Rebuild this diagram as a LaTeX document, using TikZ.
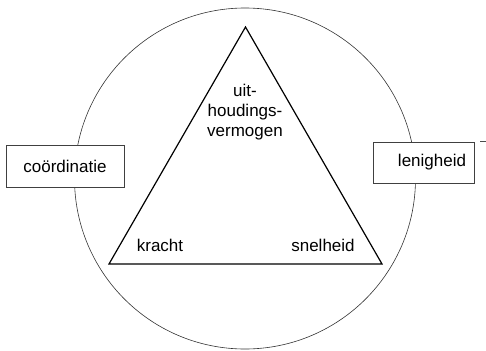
\documentclass[tikz,border=0pt]{standalone}
\usepackage{fontspec}
\setmainfont{Liberation Sans}
\begin{document}
\begin{tikzpicture}[x=1pt,y=-1pt,
  lbl/.style={font=\fontsize{17}{20}\selectfont, inner sep=0pt, align=center},
  boxst/.style={draw=black!75, line width=0.7pt, fill=white, inner sep=0pt},
  ring/.style={draw=black!80, line width=0.6pt},
  tri/.style={draw=black, line width=1.2pt, line join=miter}]
\useasboundingbox (0,0) rectangle (486,350);
\node[ring, circle, minimum size=341pt, inner sep=0pt] (c) at (245,178.5) {};
\coordinate (A) at (245.5,27);
\coordinate (B) at (109,264);
\coordinate (C) at (382,264);
\draw[tri] (A) -- (B) -- (C) -- cycle;
\node[boxst, minimum width=118pt, minimum height=42pt] (lb) at (65,166) {};
\node[lbl] (lt) at (65,166) {coördinatie};
\node[boxst, minimum width=101pt, minimum height=41pt] (rb) at (423.5,162.5) {};
\node[lbl] (rt) at (432,162) {lenigheid};
\coordinate (m1) at (480,141.5);
\coordinate (m2) at (486,141.5);
\draw[black!70, line width=0.6pt] (m1) -- (m2);
\node[lbl] (u) at (245,112) {uit-\\houdings-\\vermogen};
\node[lbl] (k) at (160,245) {kracht};
\node[lbl] (s) at (323,245) {snelheid};
\end{tikzpicture}
\end{document}
